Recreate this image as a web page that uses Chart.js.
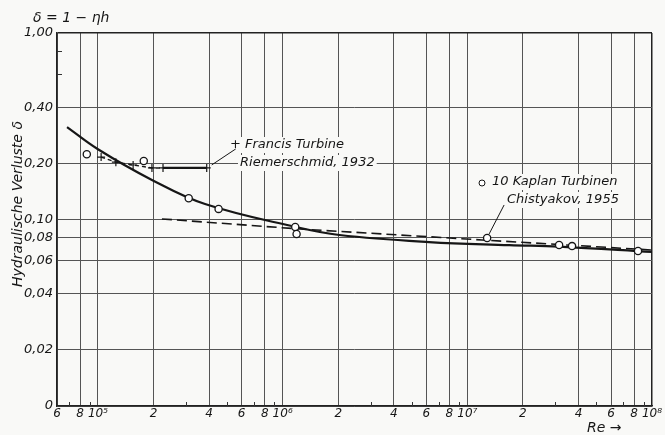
<!DOCTYPE html>
<html>
<head>
<meta charset="utf-8">
<script src="https://cdn.jsdelivr.net/npm/chart.js@4.4.0/dist/chart.umd.min.js"></script>
<style>
  html, body { margin: 0; padding: 0; background: #f9f9f7; }
  #wrap { width: 665px; height: 435px; position: relative; }
</style>
</head>
<body>
<div id="wrap"><canvas id="chart"></canvas></div>
<script>
/* Hydraulische Verluste δ = 1 - ηh über Re (log-log) */

// Ausgleichskurve (durchgezogen)
const curveRe    = [6.8e4, 1.0e5, 1.96e5, 3.8e5, 1.19e6, 2.03e6, 6.2e6, 1.69e7, 3.14e7, 1e8];
const curveDelta = [0.313, 0.238, 0.163, 0.121, 0.091, 0.0826, 0.0757, 0.0729, 0.0716, 0.067];

// gestrichelte Gerade
const dashRe    = [2.22e5, 1.24e6, 1.2e7, 1e8];
const dashDelta = [0.1007, 0.0889, 0.0777, 0.0686];

// 10 Kaplan Turbinen, Chistyakov 1955 (Kreise)
const kaplanRe    = [8.7e4, 1.77e5, 3.1e5, 4.5e5, 1.17e6, 1.19e6, 1.28e7, 3.14e7, 3.69e7, 8.4e7];
const kaplanDelta = [0.224, 0.206, 0.130, 0.114, 0.0912, 0.0836, 0.0796, 0.073, 0.072, 0.0678];

// Francis Turbine, Riemerschmid 1932 (Kreuze)
const francisRe    = [1.04e5, 1.25e5, 1.55e5, 1.96e5, 2.25e5, 3.88e5];
const francisDelta = [0.216, 0.203, 0.196, 0.189, 0.189, 0.189];

// Achsen
const xTicks      = [6e4, 8e4, 1e5, 2e5, 4e5, 6e5, 8e5, 1e6, 2e6, 4e6, 6e6, 8e6, 1e7, 2e7, 4e7, 6e7, 8e7, 1e8];
const xTickLabels = ['6', '8', '10⁵', '2', '4', '6', '8', '10⁶', '2', '4', '6', '8', '10⁷', '2', '4', '6', '8', '10⁸'];
const xMinor      = [7e4, 9e4, 3e5, 5e5, 7e5, 9e5, 3e6, 5e6, 7e6, 9e6, 3e7, 5e7, 7e7, 9e7];
const yTicks      = [0.01, 0.02, 0.04, 0.06, 0.08, 0.1, 0.2, 0.4, 1];
const yTickLabels = ['0', '0,02', '0,04', '0,06', '0,08', '0,10', '0,20', '0,40', '1,00'];
const yMinor      = [0.6, 0.8];

const FONT = '"DejaVu Sans"';
const INK = '#161616';

const toXY = (xs, ys) => xs.map((v, i) => ({ x: v, y: ys[i] }));

const notes = {
  id: 'notes',
  afterDraw(chart) {
    const { ctx, scales: { x, y } } = chart;
    const line = (x1, y1, x2, y2) => { ctx.beginPath(); ctx.moveTo(x1, y1); ctx.lineTo(x2, y2); ctx.stroke(); };
    ctx.save();

    // kleine Teilstriche
    ctx.strokeStyle = '#333';
    ctx.lineWidth = 1;
    xMinor.forEach(v => {
      const px = Math.round(x.getPixelForValue(v)) + 0.5;
      line(px, y.bottom, px, y.bottom - 4);
    });
    yMinor.forEach(v => {
      const py = Math.round(y.getPixelForValue(v)) + 0.5;
      line(x.left, py, x.left + 5, py);
    });

    ctx.font = 'italic 13px ' + FONT;
    ctx.textBaseline = 'middle';
    ctx.textAlign = 'left';

    const label = (txt, tx, ty) => {
      const w = ctx.measureText(txt).width;
      ctx.fillStyle = '#f9f9f7';
      ctx.fillRect(tx - 2, ty - 8, w + 4, 16);
      ctx.fillStyle = INK;
      ctx.fillText(txt, tx, ty);
    };

    // Francis Beschriftung
    const fp = { x: x.getPixelForValue(francisRe[5]), y: y.getPixelForValue(francisDelta[5]) };
    label('+ Francis Turbine', 230, 145);
    label('Riemerschmid, 1932', 240, 163);
    ctx.strokeStyle = INK;
    ctx.lineWidth = 1;
    line(fp.x + 5, fp.y - 3, fp.x + 29, fp.y - 19);

    // Kaplan Beschriftung
    const kp = { x: x.getPixelForValue(kaplanRe[6]), y: y.getPixelForValue(kaplanDelta[6]) };
    label('10 Kaplan Turbinen', 492, 182);
    label('Chistyakov, 1955', 507, 200);
    ctx.beginPath();
    ctx.arc(482, 183, 3, 0, Math.PI * 2);
    ctx.fillStyle = '#fff';
    ctx.fill();
    ctx.stroke();
    line(kp.x + 2, kp.y - 4, kp.x + 17, kp.y - 33);

    // Achsentitel
    ctx.fillStyle = INK;
    ctx.font = 'italic 14px ' + FONT;
    ctx.fillText('δ = 1 − ηh', 33, 18);
    ctx.fillText('Re →', 587, 428);

    ctx.translate(18, 204);
    ctx.rotate(-Math.PI / 2);
    ctx.textAlign = 'center';
    ctx.fillText('Hydraulische Verluste δ', 0, 0);
    ctx.restore();
  }
};

new Chart(document.getElementById('chart'), {
  type: 'line',
  plugins: [notes],
  data: {
    datasets: [
      {
        data: toXY(curveRe, curveDelta),
        borderColor: INK,
        borderWidth: 2.2,
        pointRadius: 0,
        tension: 0.4,
        order: 3
      },
      {
        data: toXY(dashRe, dashDelta),
        borderColor: INK,
        borderWidth: 1.6,
        borderDash: [10, 5],
        pointRadius: 0,
        order: 4
      },
      {
        data: toXY(francisRe, francisDelta),
        borderColor: INK,
        borderWidth: 1.4,
        segment: {
          borderDash: c => c.p0DataIndex === 4 ? [] : [4, 3],
          borderWidth: c => c.p0DataIndex === 4 ? 2.2 : 1.4
        },
        pointStyle: 'cross',
        pointRadius: 4,
        pointBorderWidth: 1.2,
        pointBorderColor: INK,
        order: 2
      },
      {
        data: toXY(kaplanRe, kaplanDelta),
        showLine: false,
        pointStyle: 'circle',
        pointRadius: 3.6,
        pointBorderWidth: 1.3,
        pointBorderColor: INK,
        pointBackgroundColor: '#ffffff',
        order: 1
      }
    ]
  },
  options: {
    responsive: true,
    maintainAspectRatio: false,
    animation: false,
    layout: { autoPadding: false, padding: { left: 0, top: 33, right: 13, bottom: 0 } },
    plugins: { legend: { display: false }, tooltip: { enabled: false } },
    scales: {
      x: {
        type: 'logarithmic',
        min: 6e4,
        max: 1e8,
        afterBuildTicks: s => { s.ticks = xTicks.map(v => ({ value: v })); },
        afterFit: s => { s.height = 29; },
        ticks: {
          autoSkip: false,
          maxRotation: 0,
          padding: 1,
          color: INK,
          font: { family: FONT, style: 'italic', size: 12 },
          callback: v => xTickLabels[xTicks.indexOf(v)]
        },
        grid: {
          drawTicks: false,
          color: c => c.tick && c.tick.value === 1e8 ? '#222' : '#555',
          lineWidth: c => c.tick && c.tick.value === 1e8 ? 1.5 : 1
        },
        border: { display: true, color: '#222', width: 1.5 }
      },
      y: {
        type: 'logarithmic',
        min: 0.01,
        max: 1,
        afterBuildTicks: s => { s.ticks = yTicks.map(v => ({ value: v })); },
        afterFit: s => { s.width = 57; },
        ticks: {
          autoSkip: false,
          padding: 4,
          color: INK,
          font: { family: FONT, style: 'italic', size: 13 },
          callback: v => yTickLabels[yTicks.indexOf(v)]
        },
        grid: {
          drawTicks: false,
          color: c => c.tick && c.tick.value === 1 ? '#222' : '#555',
          lineWidth: c => c.tick && c.tick.value === 1 ? 1.5 : 1
        },
        border: { display: true, color: '#222', width: 1.5 }
      }
    }
  }
});
</script>
</body>
</html>
